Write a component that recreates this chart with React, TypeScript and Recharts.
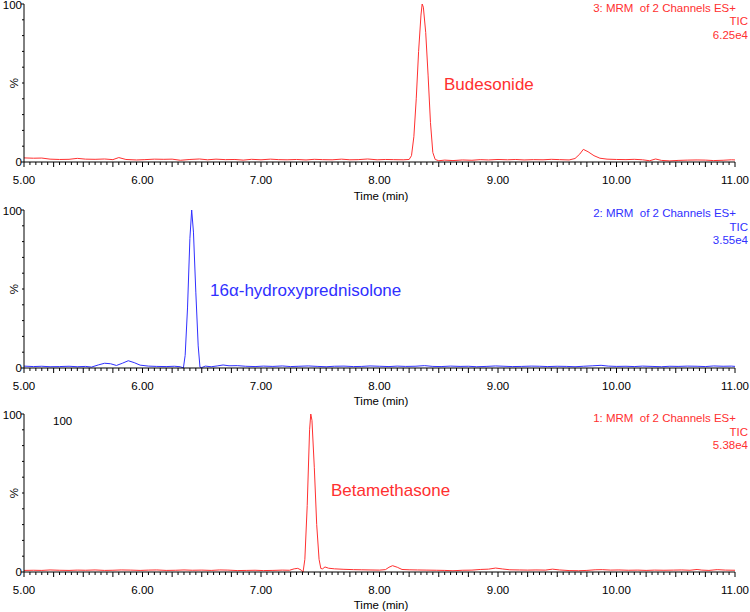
import React from 'react';
import { LineChart, Line, XAxis, YAxis } from 'recharts';

const FONT = '"Liberation Sans", Arial, Helvetica, sans-serif';
const RED = '#ff3030';
const BLUE = '#3030ff';

// Panel 3 (top): Budesonide
const times3 = [5.00,5.08,5.15,5.22,5.30,5.38,5.45,5.52,5.60,5.68,5.75,5.80,5.86,5.95,6.02,6.10,6.18,6.25,6.32,6.40,6.48,6.55,6.62,6.70,6.78,6.85,6.92,7.00,7.08,7.15,7.22,7.30,7.38,7.45,7.52,7.60,7.68,7.75,7.82,7.90,7.98,8.05,8.12,8.20,8.25,8.27,8.29,8.31,8.33,8.35,8.36,8.37,8.39,8.41,8.43,8.45,8.47,8.50,8.55,8.62,8.70,8.78,8.85,8.92,9.00,9.08,9.15,9.22,9.30,9.38,9.45,9.52,9.60,9.65,9.69,9.72,9.76,9.81,9.86,9.92,10.00,10.08,10.15,10.22,10.28,10.33,10.38,10.45,10.52,10.60,10.68,10.75,10.82,10.90,10.97,11.00];
const values3 = [2.6,2.4,2.5,1.8,1.6,1.7,2.3,1.8,1.7,1.9,1.5,2.8,1.6,1.3,1.5,1.8,1.7,1.8,1.1,1.6,1.9,1.4,1.8,1.5,1.6,1.2,1.7,1.4,1.8,1.5,1.4,1.6,1.3,1.7,1.5,1.4,1.8,1.4,1.5,1.9,1.4,1.6,1.5,1.4,1.6,4,16,40,70,93,100,98,82,55,25,6,1.6,0.8,1.2,0.9,1.3,1.1,1.5,1.3,1.6,1.4,1.6,1.3,1.5,1.4,1.7,1.5,1.3,2.2,5,8,6.5,4,2.4,1.8,1.6,1.5,1.7,1.4,0.8,1.9,1.0,0.7,1.0,1.2,1.3,1.2,0.9,1.1,1.4,1.3];

// Panel 2 (middle): 16α-hydroxyprednisolone
const times2 = [5.00,5.08,5.15,5.22,5.30,5.38,5.45,5.52,5.57,5.63,5.68,5.73,5.78,5.83,5.88,5.93,5.98,6.05,6.12,6.20,6.27,6.32,6.345,6.36,6.38,6.40,6.415,6.43,6.45,6.47,6.485,6.50,6.53,6.58,6.63,6.68,6.73,6.80,6.87,6.95,7.02,7.10,7.18,7.25,7.32,7.40,7.48,7.55,7.62,7.70,7.78,7.85,7.92,8.00,8.08,8.15,8.22,8.30,8.38,8.45,8.52,8.60,8.68,8.75,8.82,8.90,8.98,9.05,9.12,9.20,9.28,9.35,9.42,9.50,9.58,9.65,9.72,9.80,9.87,9.93,10.00,10.08,10.15,10.22,10.30,10.38,10.45,10.52,10.60,10.68,10.75,10.82,10.90,10.97,11.00];
const values2 = [1.2,0.9,1.1,0.8,0.9,1.1,0.8,1.0,0.6,2.0,3.0,2.7,1.6,3.0,4.6,3.4,1.8,1.2,1.0,0.9,1.1,0.8,0,8,38,82,100,86,48,14,0.5,0.3,1.2,0.8,1.3,1.9,1.4,1.5,1.1,0.9,1.2,1.0,1.3,0.9,1.1,1.3,1.0,0.8,1.1,1.2,0.9,1.0,1.3,1.1,0.9,1.2,1.0,1.1,1.5,1.0,0.9,1.2,1.0,1.1,0.8,1.0,1.3,1.1,0.9,1.0,1.2,1.1,0.9,1.1,1.0,0.8,1.1,1.4,1.7,1.2,1.0,1.1,0.9,1.2,1.0,0.8,1.1,1.0,1.2,1.1,0.9,1.3,1.1,1.2,1.0];

// Panel 1 (bottom): Betamethasone
const times1 = [5.00,5.08,5.15,5.22,5.30,5.38,5.45,5.52,5.60,5.68,5.75,5.82,5.90,5.98,6.05,6.12,6.20,6.28,6.35,6.42,6.50,6.58,6.65,6.72,6.80,6.88,6.95,7.02,7.10,7.18,7.24,7.28,7.31,7.34,7.355,7.37,7.39,7.41,7.42,7.43,7.45,7.47,7.49,7.505,7.52,7.54,7.57,7.62,7.70,7.78,7.85,7.92,8.00,8.05,8.08,8.11,8.15,8.19,8.25,8.32,8.40,8.48,8.55,8.62,8.70,8.78,8.85,8.92,8.98,9.04,9.10,9.18,9.25,9.32,9.40,9.46,9.52,9.60,9.68,9.75,9.82,9.88,9.95,10.02,10.10,10.18,10.25,10.32,10.40,10.48,10.55,10.62,10.68,10.72,10.78,10.85,10.92,11.00];
const values1 = [1.0,1.1,1.0,1.3,1.1,1.0,1.2,1.1,1.3,1.0,1.1,1.3,1.2,1.0,1.2,1.3,1.0,1.1,1.3,1.1,1.2,1.0,1.3,1.2,0.9,1.0,1.1,0.9,1.0,1.2,1.1,2.0,2.3,1.2,0,8,42,90,100,96,66,30,8,2.2,2.0,3.2,2.4,2.0,1.7,1.5,1.4,1.3,1.2,1.5,3.0,4.0,3.0,1.6,1.4,1.3,1.2,1.1,1.0,0.8,1.1,1.2,1.6,1.8,2.5,1.9,1.4,1.3,1.2,1.3,1.2,1.8,1.3,0.9,0.8,1.0,1.4,1.5,1.2,1.3,1.1,1.2,1.0,1.2,1.1,1.2,1.3,1.1,1.6,1.2,1.0,1.5,1.2,1.1];

const headers3 = ['3: MRM  of 2 Channels ES+', 'TIC', '6.25e4'];
const headers2 = ['2: MRM  of 2 Channels ES+', 'TIC', '3.55e4'];
const headers1 = ['1: MRM  of 2 Channels ES+', 'TIC', '5.38e4'];

const xTicks: number[] = Array.from({ length: 121 }, (_, i) => Math.round((5 + i * 0.05) * 100) / 100);
const yTicks = [0, 10, 20, 30, 40, 50, 60, 70, 80, 90, 100];

const PAD = 10; // extra room above each plot so the "100" label is not clipped

function XTick(props: any) {
  const { x, y, payload } = props;
  const v: number = payload.value;
  const isInt = Math.abs(v - Math.round(v)) < 1e-6;
  const isQ = Math.abs(v * 4 - Math.round(v * 4)) < 1e-6;
  return (
    <g>
      <line x1={x} x2={x} y1={y} y2={y + (isQ ? 5 : 3)} stroke="#000" strokeWidth={1} />
      {isInt && (
        <text x={x} y={y + 18} textAnchor="middle" dominantBaseline="central" fontSize={11.5} fill="#000" fontFamily={FONT}>
          {v.toFixed(2)}
        </text>
      )}
    </g>
  );
}

function YTick(props: any) {
  const { x, y, payload } = props;
  const v: number = payload.value;
  const lab = v === 0 || v === 100;
  return (
    <g>
      <line x1={x - (lab ? 3 : 2)} x2={x} y1={y} y2={y} stroke="#000" strokeWidth={1} />
      {lab && (
        <text x={x - 2} y={v === 100 ? y + 0.8 : y} textAnchor="end" dominantBaseline="central" fontSize={11.5} fill="#000" fontFamily={FONT}>
          {String(v)}
        </text>
      )}
    </g>
  );
}

function Panel({ top, times, values, color }: { top: number; times: number[]; values: number[]; color: string }) {
  const data = times.map((t, i) => ({ t, v: values[i] }));
  return (
    <div style={{ position: 'absolute', left: 0, top: top - PAD, width: 750, height: 202 + PAD }}>
      <LineChart width={750} height={202 + PAD} data={data} margin={{ top: 4 + PAD, right: 15, left: 0, bottom: 0 }}>
        <XAxis
          dataKey="t"
          type="number"
          domain={[5, 11]}
          ticks={xTicks}
          interval={0}
          tickLine={false}
          tickSize={0}
          tickMargin={0}
          height={40}
          axisLine={{ stroke: '#000', strokeWidth: 1 }}
          tick={<XTick />}
          allowDataOverflow
        />
        <YAxis
          type="number"
          domain={[0, 100]}
          ticks={yTicks}
          interval={0}
          width={24}
          tickLine={false}
          tickSize={0}
          tickMargin={0}
          axisLine={{ stroke: '#000', strokeWidth: 1 }}
          tick={<YTick />}
          allowDataOverflow
        />
        <Line type="linear" dataKey="v" stroke={color} strokeWidth={1} dot={false} isAnimationActive={false} />
      </LineChart>
    </div>
  );
}

function Headers({ lines, y0, color }: { lines: string[]; y0: number; color: string }) {
  return (
    <g>
      <text x={736} y={y0} textAnchor="end" dominantBaseline="central" fontSize={11.5} fill={color} fontFamily={FONT} style={{ whiteSpace: 'pre' }}>{lines[0]}</text>
      <text x={748} y={y0 + 13.5} textAnchor="end" dominantBaseline="central" fontSize={11.5} fill={color} fontFamily={FONT}>{lines[1]}</text>
      <text x={748} y={y0 + 27} textAnchor="end" dominantBaseline="central" fontSize={11.5} fill={color} fontFamily={FONT}>{lines[2]}</text>
    </g>
  );
}

function Pct({ y }: { y: number }) {
  return (
    <text x={14} y={y} textAnchor="middle" dominantBaseline="central" fontSize={11.5} fill="#000" fontFamily={FONT} transform={`rotate(-90 14 ${y})`}>%</text>
  );
}

function TimeLabel({ y }: { y: number }) {
  return (
    <text x={381} y={y} textAnchor="middle" dominantBaseline="central" fontSize={11.5} fill="#000" fontFamily={FONT}>Time (min)</text>
  );
}

export default function App() {
  return (
    <div style={{ position: 'absolute', left: 0, top: 0, width: 750, height: 612, background: '#fff', overflow: 'hidden' }}>
      <Panel top={0} times={times3} values={values3} color={RED} />
      <Panel top={206} times={times2} values={values2} color={BLUE} />
      <Panel top={410} times={times1} values={values1} color={RED} />
      <svg width={750} height={612} style={{ position: 'absolute', left: 0, top: 0, pointerEvents: 'none' }}>
        <Headers lines={headers3} y0={7.5} color={RED} />
        <Headers lines={headers2} y0={213} color={BLUE} />
        <Headers lines={headers1} y0={418} color={RED} />
        <Pct y={83} />
        <Pct y={289} />
        <Pct y={493} />
        <TimeLabel y={196} />
        <TimeLabel y={401} />
        <TimeLabel y={605} />
        <text x={444} y={84} dominantBaseline="central" fontSize={17} fill={RED} fontFamily={FONT}>Budesonide</text>
        <text x={210} y={290} dominantBaseline="central" fontSize={17} fill={BLUE} fontFamily={FONT}>16α-hydroxyprednisolone</text>
        <text x={331} y={490} dominantBaseline="central" fontSize={17} fill={RED} fontFamily={FONT}>Betamethasone</text>
        <text x={53} y={421} dominantBaseline="central" fontSize={11.5} fill="#000" fontFamily={FONT}>100</text>
      </svg>
    </div>
  );
}
